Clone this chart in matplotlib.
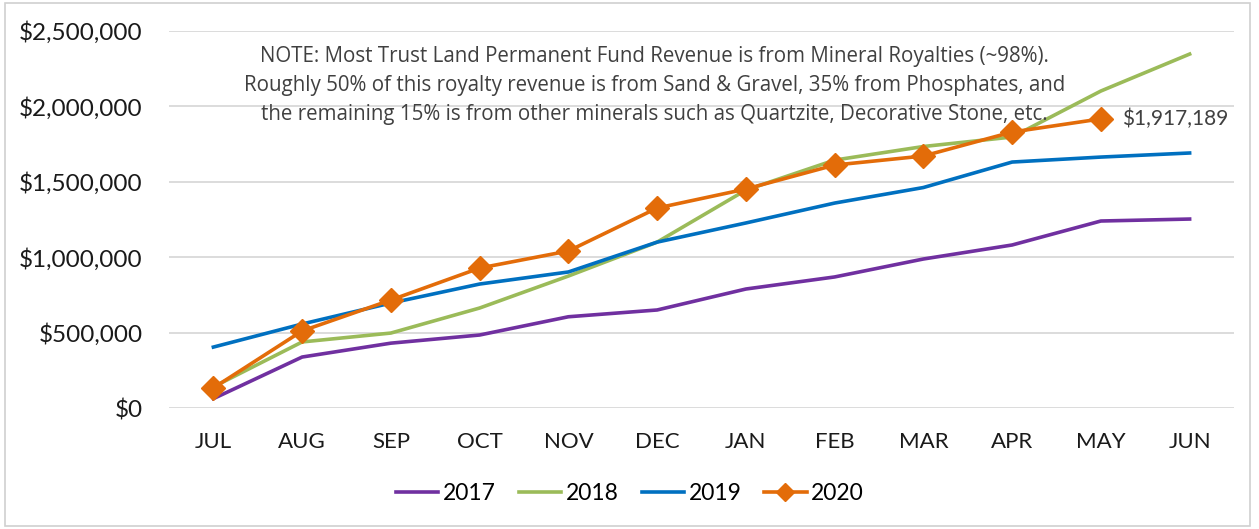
import numpy as np
import matplotlib as mpl
import matplotlib.pyplot as plt
from matplotlib.patches import Rectangle
from matplotlib.ticker import FuncFormatter

mpl.rcParams['font.family'] = ['Lato', 'DejaVu Sans']

months = ['JUL', 'AUG', 'SEP', 'OCT', 'NOV', 'DEC', 'JAN', 'FEB', 'MAR', 'APR', 'MAY', 'JUN']
y2017 = [62000, 338000, 430000, 484000, 605000, 650000, 789000, 869000, 988000, 1081000, 1240000, 1253000]
y2018 = [140000, 438000, 497000, 663000, 875000, 1100000, 1445000, 1644000, 1734000, 1797000, 2102000, 2347000]
y2019 = [404000, 557000, 696000, 822000, 902000, 1100000, 1227000, 1359000, 1462000, 1631000, 1664000, 1691000]
y2020 = [133000, 511000, 716000, 928000, 1041000, 1326000, 1452000, 1611000, 1671000, 1830000, 1917189]

note = ("NOTE: Most Trust Land Permanent Fund Revenue is from Mineral Royalties (~98%).\n"
        "Roughly 50% of this royalty revenue is from Sand & Gravel, 35% from Phosphates, and\n"
        "the remaining 15% is from other minerals such as Quartzite, Decorative Stone, etc.")

W, H = 1259, 529
fig = plt.figure(figsize=(W / 100, H / 100), dpi=100)
ax = fig.add_axes([169 / W, 1 - 408 / H, (1234 - 169) / W, (408 - 31) / H])

x = np.arange(len(months))
ax.plot(x, y2017, color='#7030A0', lw=2.6, label='2017', zorder=3)
ax.plot(x, y2018, color='#9BBB59', lw=2.6, label='2018', zorder=3)
ax.plot(x, y2019, color='#0070C0', lw=2.6, label='2019', zorder=3)
ax.plot(x[:len(y2020)], y2020, color='#E36C09', lw=2.6, marker='D', ms=12,
        label='2020', zorder=4)

ax.annotate('${:,.0f}'.format(y2020[-1]), (x[len(y2020) - 1], y2020[-1]),
            xytext=(15, 0), textcoords='offset points', va='center', ha='left',
            fontsize=15, color='#404040')

ax.set_xlim(-0.5, len(months) - 0.5)
ax.set_ylim(0, 2500000)
ax.set_yticks(np.arange(0, 2500001, 500000))
ax.yaxis.set_major_formatter(FuncFormatter(lambda v, p: '${:,.0f}'.format(v)))
ax.set_xticks(x)
ax.set_xticklabels(months)
ax.tick_params(axis='both', length=0, colors='#1a1a1a')
ax.tick_params(axis='y', pad=19, labelsize=17.5)
ax.tick_params(axis='x', pad=17, labelsize=16)
ax.grid(axis='y', color='#d9d9d9', lw=1.3, zorder=0)
for s in ax.spines.values():
    s.set_visible(False)

ax.text(0.456, 0.855, note, transform=ax.transAxes, ha='center', va='center',
        fontsize=14.8, color='#404040', linespacing=1.5, zorder=5,
        family=['Open Sans', 'DejaVu Sans'])

leg = ax.legend(loc='center', bbox_to_anchor=(630 / W, 1 - 494 / H),
                bbox_transform=fig.transFigure, ncol=4, frameon=False, fontsize=16.5,
                handlelength=1.85, handletextpad=0.2, columnspacing=1.0,
                markerscale=0.75)

fig.patches.append(Rectangle((5 / W, 3 / H), 1245 / W, 523 / H, fill=False,
                             edgecolor='#d0d0d0', lw=1.2, transform=fig.transFigure))

fig.savefig('out.png', dpi=100)
